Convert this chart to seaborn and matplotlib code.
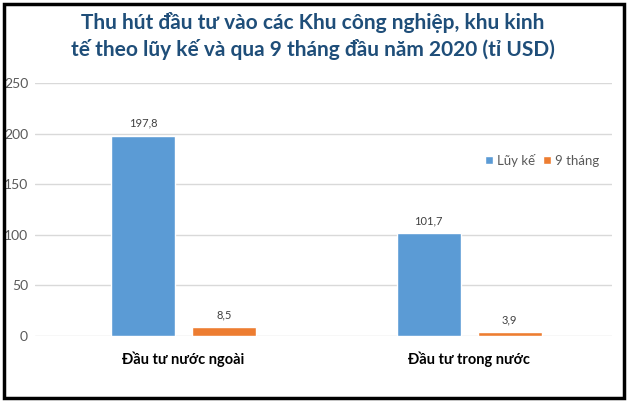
import pandas as pd
import seaborn as sns
import matplotlib
import matplotlib.pyplot as plt
from matplotlib.patches import Rectangle
matplotlib.use('Agg')

categories = ['Đầu tư nước ngoài', 'Đầu tư trong nước']
series = ['Lũy kế', '9 tháng']
luy_ke = [197.8, 101.7]
chin_thang = [8.5, 3.9]
y_ticks = [0, 50, 100, 150, 200, 250]

df = pd.DataFrame({
    'cat': categories * 2,
    'series': [series[0]] * 2 + [series[1]] * 2,
    'value': luy_ke + chin_thang,
})

sns.set_theme(style='white')
plt.rcParams['font.family'] = ['Lato', 'DejaVu Sans']

fig = plt.figure(figsize=(6.3, 4.04), dpi=100)
ax = fig.add_axes([35 / 630, 1 - 336 / 404, 577 / 630, 253 / 404])

sns.barplot(data=df, x='cat', y='value', hue='series',
            palette=['#5B9BD5', '#ED7D31'], width=0.568, gap=0.21,
            saturation=1, ax=ax)

ax.set_ylim(0, 250)
ax.set_xlim(-0.52, 1.5)
ax.set_yticks(y_ticks)
ax.set_yticklabels([str(t) for t in y_ticks], color='#595959', fontsize=10)
ax.yaxis.grid(True, color='#D9D9D9', linewidth=1)
ax.set_axisbelow(True)
ax.tick_params(axis='y', length=0, pad=5)
ax.tick_params(axis='x', length=0, pad=11)
for lbl in ax.get_xticklabels():
    lbl.set_fontweight('bold')
    lbl.set_fontsize(10.5)
    lbl.set_color('black')
ax.set_xlabel('')
ax.set_ylabel('')
sns.despine(ax=ax, left=True, bottom=True)

# value labels with comma decimal
for cont in ax.containers:
    ax.bar_label(cont, labels=[f'{v:.1f}'.replace('.', ',') for v in cont.datavalues],
                 padding=5, fontsize=8, color='#404040')

ax.legend(loc='center left', bbox_to_anchor=(0.76, 0.695), frameon=False,
          ncol=2, fontsize=9.5, handlelength=0.6, handleheight=0.6,
          handletextpad=0.3, columnspacing=0.6, labelcolor='#595959')

fig.text(0.497, 0.91, 'Thu hút đầu tư vào các Khu công nghiệp, khu kinh\n'
         'tế theo lũy kế và qua 9 tháng đầu năm 2020 (tỉ USD)',
         ha='center', va='center', fontsize=15, fontweight='bold',
         color='#1F4E79', linespacing=1.35)

fig.patches.append(Rectangle((0.006, 0.014), 0.984, 0.976, transform=fig.transFigure,
                             fill=False, edgecolor='black', linewidth=2.5))

plt.savefig('out.png', dpi=100)
plt.close()
